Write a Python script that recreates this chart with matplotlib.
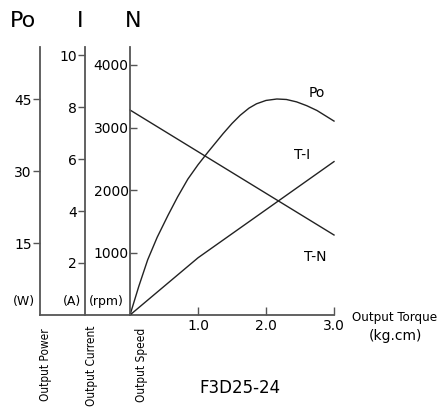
import matplotlib
matplotlib.use('Agg')
import matplotlib.pyplot as plt
from matplotlib import font_manager

# --- style ---
plt.rcParams['font.family'] = ['DejaVu Sans']
plt.rcParams['font.size'] = 10
LINE_C = '#222222'
AXIS_C = '#555555'

# narrow face for the axis names, if one is installed
names = {f.name for f in font_manager.fontManager.ttflist}
if 'Liberation Sans Narrow' in names:
    NARROW = dict(family='Liberation Sans Narrow')
    NSIZE = 10
else:
    NARROW = dict(family='DejaVu Sans', fontstretch='condensed')
    NSIZE = 8.5

# --- data ---
torque_po = [0, 0.13, 0.26, 0.4, 0.56, 0.7, 0.85, 1.0, 1.15, 1.37, 1.5, 1.62, 1.75, 1.86,
             2.0, 2.16, 2.3, 2.45, 2.6, 2.75, 3.0]
power_w = [0, 6.0, 11.5, 16.2, 20.8, 24.6, 28.3, 31.3, 34.0, 37.8, 39.9, 41.6, 43.1, 44.0,
           44.7, 45.0, 44.9, 44.4, 43.6, 42.6, 40.4]

torque_i = [0, 1.0, 3.0]
current_a = [0, 2.2, 5.9]

torque_n = [0, 3.0]
speed_rpm = [3280, 1280]

po_ticks = [15, 30, 45]
i_ticks = [2, 4, 6, 8, 10]
n_ticks = [1000, 2000, 3000, 4000]
x_ticks = [1.0, 2.0, 3.0]
x_ticklabels = ['1.0', '2.0', '3.0']

W, H = 438, 407
fig = plt.figure(figsize=(W / 100, H / 100), dpi=100)

# axes box: left spine (Po) at x=40px, torque 0 at x=130px, 3.0 at x=334px
x0_px, x3_px, ybot, ytop = 40, 334, 315, 47
ppu = (x3_px - 130) / 3.0
ax = fig.add_axes([x0_px / W, 1 - ybot / H, (x3_px - x0_px) / W, (ybot - ytop) / H])
ax.set_xlim(-(130 - x0_px) / ppu, 3.0)
ax.set_ylim(0, (ybot - ytop) / 4.8)

ax_i = ax.twinx()
ax_i.set_ylim(0, (ybot - ytop) / 26.0)
ax_n = ax.twinx()
ax_n.set_ylim(0, (ybot - ytop) / 62.5 * 1000)

ax_i.spines['left'].set_position(('data', -(130 - 85) / ppu))
ax_n.spines['left'].set_position(('data', 0))

for a in (ax, ax_i, ax_n):
    for s in ('top', 'right'):
        a.spines[s].set_visible(False)
    a.spines['left'].set_visible(True)
    a.spines['left'].set_color(AXIS_C)
    a.spines['left'].set_linewidth(1.3)
    a.yaxis.set_ticks_position('left')
    a.yaxis.set_label_position('left')
for a in (ax_i, ax_n):
    a.spines['bottom'].set_visible(False)
ax.spines['bottom'].set_color(AXIS_C)
ax.spines['bottom'].set_linewidth(1.3)

ax.set_yticks(po_ticks)
ax.tick_params(axis='y', direction='out', length=5, width=1, color=AXIS_C, pad=1, labelsize=10)
ax_i.set_yticks(i_ticks)
ax_i.tick_params(axis='y', direction='out', length=5, width=1, color=AXIS_C, pad=1, labelsize=10)
ax_n.set_yticks(n_ticks)
ax_n.tick_params(axis='y', direction='in', length=5, width=1, color=AXIS_C, pad=1, labelsize=10)

ax.set_xticks(x_ticks)
ax.set_xticklabels(x_ticklabels)
ax.tick_params(axis='x', direction='in', length=6, width=1, color=AXIS_C, pad=3, labelsize=10)

# curves
ax.plot(torque_po, power_w, color=LINE_C, lw=1.0, clip_on=False)
ax_i.plot(torque_i, current_a, color=LINE_C, lw=1.0, clip_on=False)
ax_n.plot(torque_n, speed_rpm, color=LINE_C, lw=1.0, clip_on=False)

# curve labels
def px(x, y):
    return x / W, 1 - y / H

fig.text(*px(317, 93), 'Po', ha='center', va='center', fontsize=10)
fig.text(*px(302, 155), 'T-I', ha='center', va='center', fontsize=10)
fig.text(*px(315, 257), 'T-N', ha='center', va='center', fontsize=10)

# axis header symbols
fig.text(*px(23, 21), 'Po', ha='center', va='center', fontsize=16)
fig.text(*px(80, 21), 'I', ha='center', va='center', fontsize=16)
fig.text(*px(133, 21), 'N', ha='center', va='center', fontsize=16)

# units
fig.text(*px(24, 302), '(W)', ha='center', va='center', fontsize=9)
fig.text(*px(72, 302), '(A)', ha='center', va='center', fontsize=9)
fig.text(*px(106, 302), '(rpm)', ha='center', va='center', fontsize=9)

# rotated axis names
fig.text(*px(46, 328), 'Output Power', rotation=90, ha='center', va='top', fontsize=NSIZE, **NARROW)
fig.text(*px(91, 326), 'Output Current', rotation=90, ha='center', va='top', fontsize=NSIZE, **NARROW)
fig.text(*px(142, 328), 'Output Speed', rotation=90, ha='center', va='top', fontsize=NSIZE, **NARROW)

fig.text(*px(395, 317), 'Output Torque', ha='center', va='center', fontsize=NSIZE + 1, **NARROW)
fig.text(*px(395, 336), '(kg.cm)', ha='center', va='center', fontsize=10)

fig.text(*px(240, 388), 'F3D25-24', ha='center', va='center', fontsize=12)

fig.savefig('out.png', dpi=100, facecolor='white')
